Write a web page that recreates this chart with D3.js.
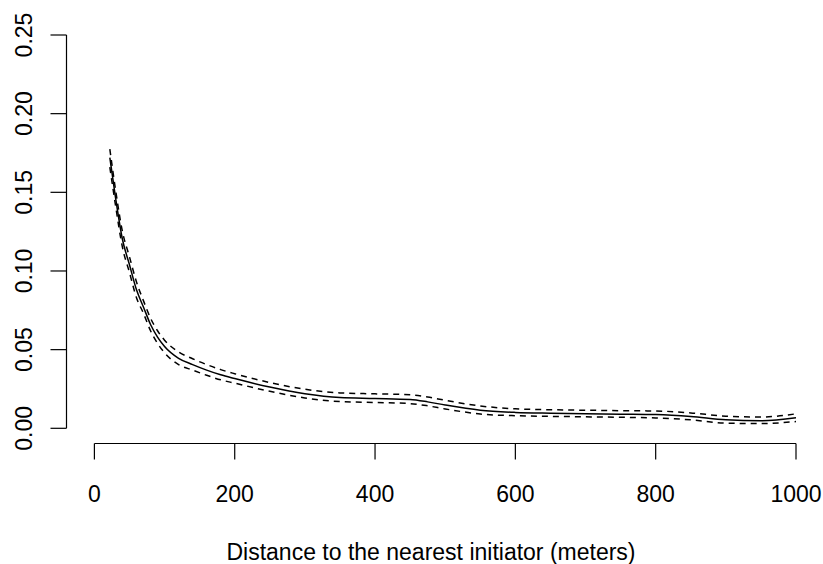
<!DOCTYPE html>
<html>
<head>
<meta charset="utf-8">
<script src="https://cdn.jsdelivr.net/npm/d3@7"></script>
<style>
  html, body { margin: 0; padding: 0; background: #fff; }
  svg { display: block; }
  text { font-family: "Liberation Sans", Arial, Helvetica, sans-serif; fill: #000; }
</style>
</head>
<body>
<svg id="chart" width="823" height="564"></svg>
<script>
// Distance to the nearest initiator (m) and the fitted curve with its band
const distance = [22, 30, 40, 50, 60, 70, 80, 90, 100, 120, 140, 160, 180, 200, 250, 300, 350, 400, 450, 475, 500, 550, 600, 650, 700, 750, 800, 850, 900, 950, 1000];
const estimate = [0.172, 0.147, 0.120, 0.104, 0.088, 0.077, 0.066, 0.058, 0.052, 0.0445, 0.0405, 0.0370, 0.0340, 0.0316, 0.0262, 0.0220, 0.0196, 0.0190, 0.0183, 0.0168, 0.0148, 0.0115, 0.0101, 0.0096, 0.0093, 0.0090, 0.0087, 0.0075, 0.0054, 0.0048, 0.0067];
const upper = [0.1775, 0.152, 0.125, 0.109, 0.093, 0.081, 0.070, 0.062, 0.056, 0.0485, 0.0442, 0.0405, 0.0373, 0.0347, 0.0291, 0.0248, 0.0225, 0.0219, 0.0213, 0.0199, 0.0178, 0.0142, 0.0124, 0.0118, 0.0115, 0.0112, 0.0110, 0.0098, 0.0077, 0.0072, 0.0092];
const lower = [0.166, 0.142, 0.115, 0.099, 0.083, 0.073, 0.062, 0.054, 0.048, 0.0405, 0.0370, 0.0337, 0.0308, 0.0287, 0.0235, 0.0193, 0.0170, 0.0164, 0.0157, 0.0143, 0.0123, 0.0091, 0.0080, 0.0076, 0.0073, 0.0070, 0.0066, 0.0054, 0.0033, 0.0030, 0.0043];

const xTicks = [0, 200, 400, 600, 800, 1000];
const yTicks = [0, 0.05, 0.10, 0.15, 0.20, 0.25];
const xLabel = "Distance to the nearest initiator (meters)";

const svg = d3.select("#chart");

const x = d3.scaleLinear().domain([0, 1000]).range([94.4, 796]);
const y = d3.scaleLinear().domain([0, 0.25]).range([428.3, 35]);

const axisX = 443.5;   // vertical position of the x axis line
const axisY = 66.5;    // horizontal position of the y axis line
const tickLen = 16;
const fontSize = 23;

// x axis
const gx = svg.append("g").attr("transform", `translate(0,${axisX})`);
gx.append("line")
  .attr("x1", x(xTicks[0])).attr("x2", x(xTicks[xTicks.length - 1]))
  .attr("y1", 0).attr("y2", 0)
  .attr("stroke", "#000").attr("stroke-width", 1.2);
gx.selectAll("line.tick").data(xTicks).join("line")
  .attr("class", "tick")
  .attr("x1", d => x(d)).attr("x2", d => x(d))
  .attr("y1", 0).attr("y2", tickLen)
  .attr("stroke", "#000").attr("stroke-width", 1.2);
gx.selectAll("text").data(xTicks).join("text")
  .attr("x", d => x(d)).attr("y", 58)
  .attr("text-anchor", "middle")
  .attr("font-size", fontSize)
  .text(d => d3.format("d")(d));

// y axis
const gy = svg.append("g").attr("transform", `translate(${axisY},0)`);
gy.append("line")
  .attr("x1", 0).attr("x2", 0)
  .attr("y1", y(yTicks[0])).attr("y2", y(yTicks[yTicks.length - 1]))
  .attr("stroke", "#000").attr("stroke-width", 1.2);
gy.selectAll("line.tick").data(yTicks).join("line")
  .attr("class", "tick")
  .attr("x1", 0).attr("x2", -tickLen)
  .attr("y1", d => y(d)).attr("y2", d => y(d))
  .attr("stroke", "#000").attr("stroke-width", 1.2);
gy.selectAll("text").data(yTicks).join("text")
  .attr("transform", d => `translate(-34.5,${y(d)}) rotate(-90)`)
  .attr("text-anchor", "middle")
  .attr("font-size", fontSize)
  .text(d => d3.format(".2f")(d));

// axis title
svg.append("text")
  .attr("x", 431).attr("y", 560)
  .attr("text-anchor", "middle")
  .attr("font-size", fontSize)
  .text(xLabel);

// curves
const line = vals => d3.line()
  .x((d, i) => x(distance[i]))
  .y((d, i) => y(vals[i]))
  .curve(d3.curveMonotoneX)(vals);

svg.append("path").attr("d", line(estimate))
  .attr("fill", "none").attr("stroke", "#000").attr("stroke-width", 1.5);
[upper, lower].forEach(band => {
  svg.append("path").attr("d", line(band))
    .attr("fill", "none").attr("stroke", "#000").attr("stroke-width", 1.5)
    .attr("stroke-dasharray", "6,5");
});
</script>
</body>
</html>
